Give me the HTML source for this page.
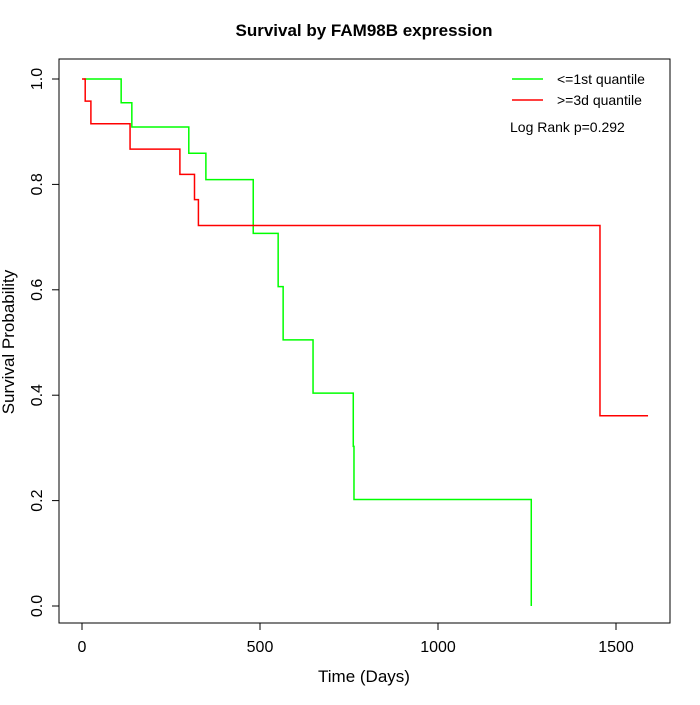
<!DOCTYPE html>
<html><head><meta charset="utf-8"><style>
body{margin:0;background:#fff}
svg{font-family:"Liberation Sans",sans-serif}
</style></head><body>
<svg id="chart" width="700" height="700">
<text x="364" y="36" text-anchor="middle" font-weight="bold" font-size="17">Survival by FAM98B expression</text>
<rect x="59" y="59" width="611" height="564" fill="none" stroke="#000"/>
<g id="xaxis"></g>
<g id="yaxis"></g>
<text x="364" y="682" text-anchor="middle" font-size="17">Time (Days)</text>
<text transform="translate(14,342) rotate(-90)" text-anchor="middle" font-size="17">Survival Probability</text>
<g id="series"></g>
<g>
<line x1="512" y1="79" x2="543" y2="79" stroke="#00ff00" stroke-width="1.5"/>
<text x="557" y="84" font-size="14">&lt;=1st quantile</text>
<line x1="512" y1="100" x2="543" y2="100" stroke="#ff0000" stroke-width="1.5"/>
<text x="557" y="105" font-size="14">&gt;=3d quantile</text>
<text x="510" y="132" font-size="14">Log Rank p=0.292</text>
</g>
</svg>
<script>
const xTicks=[0,500,1000,1500];
const yTicks=[0,0.2,0.4,0.6,0.8,1.0];
const yTickLabels=["0.0","0.2","0.4","0.6","0.8","1.0"];
const lowTimes=[5,110,140,300,348,481,551,565,649,762,764,1262];
const lowSurv=[1,0.955,0.909,0.859,0.809,0.707,0.606,0.505,0.404,0.303,0.202,0];
const highTimes=[0,9,25,135,275,316,327,1455,1590];
const highSurv=[1,0.958,0.915,0.867,0.819,0.771,0.722,0.361,0.361];
const NS="http://www.w3.org/2000/svg";
const sx=t=>82+0.356*t;
const sy=s=>606-527*s;
const xa=document.getElementById('xaxis');
const ya=document.getElementById('yaxis');
function mk(tag,attrs,parent){const e=document.createElementNS(NS,tag);for(const k in attrs)e.setAttribute(k,attrs[k]);parent.appendChild(e);return e;}
mk('line',{x1:sx(xTicks[0]),x2:sx(xTicks[xTicks.length-1]),y1:623,y2:623,stroke:'#000'},xa);
xTicks.forEach(v=>{
 const l=mk('line',{x1:sx(v),x2:sx(v),y1:623,y2:630,stroke:'#000'},xa);
 
 
 const t=mk('text',{x:sx(v),y:652,'text-anchor':'middle','font-size':16},xa);
 
 
 t.textContent=v;
});
mk('line',{x1:59,x2:59,y1:sy(0),y2:sy(1),stroke:'#000'},ya);
yTicks.forEach((v,i)=>{
 const l=mk('line',{x1:52,x2:59,y1:sy(v),y2:sy(v),stroke:'#000'},ya);
 
 
 const t=mk('text',{transform:`translate(42,${sy(v)}) rotate(-90)`,'text-anchor':'middle','font-size':16},ya);
 
 
 t.textContent=yTickLabels[i];
});
function step(times,surv){
 let d=`M${sx(times[0])},${sy(surv[0])}`;
 for(let i=1;i<times.length;i++){d+=` H${sx(times[i])} V${sy(surv[i])}`;}
 return d;
}
const g=document.getElementById('series');
const p1=mk('path',{d:step(lowTimes,lowSurv),fill:'none',stroke:'#00ff00','stroke-width':1.5},g);


const p2=mk('path',{d:step(highTimes,highSurv),fill:'none',stroke:'#ff0000','stroke-width':1.5},g);


</script>
</body></html>
